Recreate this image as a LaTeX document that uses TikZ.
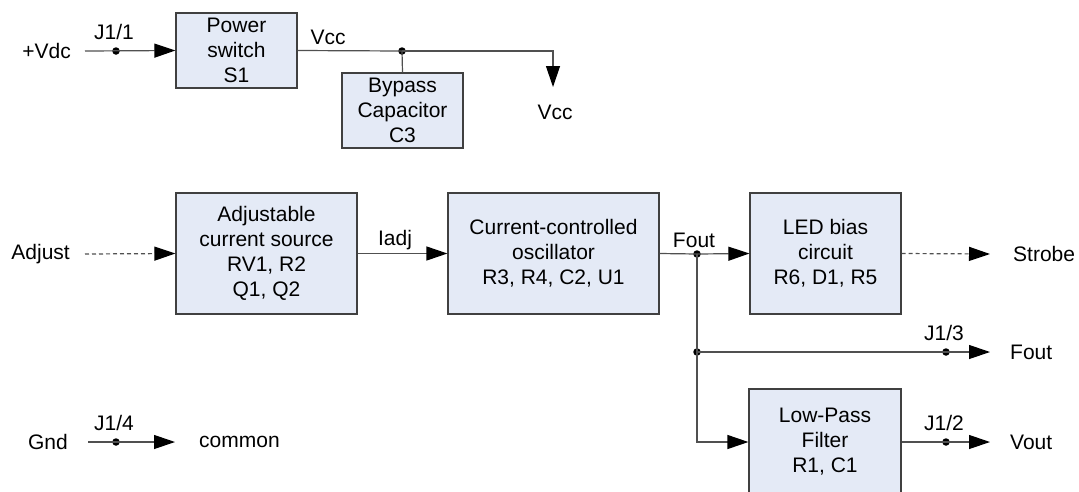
\documentclass[tikz,border=0pt]{standalone}
\usepackage{fontspec}
\setmainfont{Liberation Sans}
\usetikzlibrary{arrows.meta}
\definecolor{boxfill}{RGB}{228,234,246}
\definecolor{wire}{RGB}{80,80,80}
\tikzset{
	block/.style={draw=black!75, fill=boxfill, line width=1.2pt, align=center, inner sep=0pt, font=\fontsize{21}{25}\selectfont},
	lbl/.style={inner sep=0pt, font=\fontsize{21}{25}\selectfont},
	wireline/.style={wire, line width=1.2pt},
	sig/.style={wireline, -{Triangle[length=21pt, width=14pt, color=black]}},
	pin/.style={circle, fill=black, inner sep=0pt, minimum size=7.5pt},
}
\begin{document}
\begin{tikzpicture}[x=1pt, y=-1pt]
	\useasboundingbox (0,0) rectangle (1079,491);
	% blocks
	\node[block, minimum width=121pt, minimum height=75pt] (ps) at (236.5,50.5) {Power\\switch\\S1};
	\node[block, minimum width=121pt, minimum height=75pt] (cap) at (402.5,110.5) {Bypass\\Capacitor\\C3};
	\node[block, minimum width=181pt, minimum height=121pt] (src) at (266.5,253.5) {Adjustable\\current source\\RV1, R2\\Q1, Q2};
	\node[block, minimum width=211pt, minimum height=121pt] (osc) at (553.5,253.5) {Current-controlled\\oscillator\\R3, R4, C2, U1};
	\node[block, minimum width=151pt, minimum height=121pt] (led) at (825.5,253.5) {LED bias\\circuit\\R6, D1, R5};
	\node[block, minimum width=152pt, minimum height=106pt] (lpf) at (825,442) {Low-Pass\\Filter\\R1, C1};
	% terminal labels
	\node[lbl, anchor=east] (vdc) at (71,51) {+Vdc};
	\node[lbl, anchor=east] (adj) at (70,254) {Adjust};
	\node[lbl, anchor=east] (gnd) at (68,442) {Gnd};
	\node[lbl, anchor=west] (com) at (199,442) {common};
	\node[lbl] (vcc) at (555,112) {Vcc};
	\node[lbl, anchor=west] (strobe) at (1013,254) {Strobe};
	\node[lbl, anchor=west] (fout) at (1010,352) {Fout};
	\node[lbl, anchor=west] (vout) at (1010,442) {Vout};
	% net labels
	\node[lbl] (vccnet) at (328,37) {Vcc};
	\node[lbl] (iadj) at (395,240) {Iadj};
	\node[lbl] (foutnet) at (694,240) {Fout};
	% connector pins
	\foreach \name/\x/\y/\txt in {j11/116/51/{J1/1}, j14/116/442/{J1/4}, j13/946/352/{J1/3}, j12/946/442/{J1/2}}
	{
		\node[pin] (\name) at (\x,\y) {};
		\node[lbl] (\name l) at (\x-2,\y-19) {\txt};
	}
	% junctions and free ends
	\node[pin] (vccj) at (402,51) {};
	\node[pin] (foutj) at (697,254) {};
	\node[pin] (brj) at (697,352) {};
	\coordinate (vdcw) at (85,51);
	\coordinate (adjw) at (85,254);
	\coordinate (gndw) at (88,442);
	\coordinate (gndtip) at (175,442);
	\coordinate (vcctip) at (553,87);
	\coordinate (strobetip) at (990,254);
	\coordinate (fouttip) at (990,352);
	\coordinate (vouttip) at (990,442);
	% supply
	\draw[sig] (vdcw) -- (ps.west);
	\draw[wireline] (ps.east) -- (vccj.center);
	\draw[sig] (vccj.center) -| (vcctip);
	\draw[wireline] (vccj.center) -- (cap.north);
	\draw[sig] (gndw) -- (gndtip);
	% signal chain
	\draw[sig, dash pattern=on 4pt off 3pt] (adjw) -- (src.west);
	\draw[sig] (src.east) -- (osc.west);
	\draw[wireline] (osc.east) -- (foutj.center);
	\draw[sig] (foutj.center) -- (led.west);
	\draw[sig, dash pattern=on 4pt off 3pt] (led.east) -- (strobetip);
	\draw[wireline] (foutj.center) -- (brj.center);
	\draw[sig] (brj.center) -- (fouttip);
	\draw[sig] (brj.center) |- (lpf.west);
	\draw[sig] (lpf.east) -- (vouttip);
\end{tikzpicture}
\end{document}
